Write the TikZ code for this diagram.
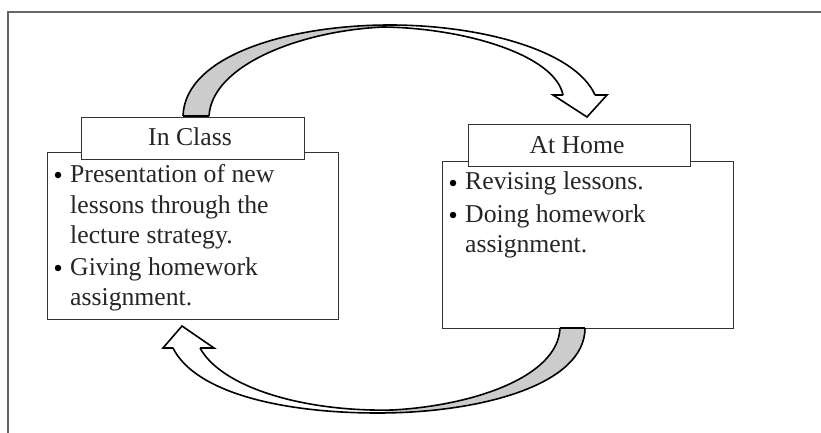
\documentclass[tikz,border=0pt]{standalone}
\usepackage{fontspec}
\setmainfont{Liberation Serif}
\begin{document}
\begin{tikzpicture}[x=1pt,y=-1pt,
  boxline/.style={draw=black!80,line width=1.3pt},
  tabbox/.style={boxline,fill=white,anchor=north west,inner sep=0pt},
  bodybox/.style={boxline,fill=white,anchor=north west,inner sep=0pt},
  txt/.style={anchor=base west,inner sep=0pt,text=black!85,font=\fontsize{25.7}{30}\selectfont},
  lbl/.style={anchor=base,inner sep=0pt,text=black!85,font=\fontsize{25.7}{30}\selectfont},
  dotb/.style={circle,fill=black,inner sep=0pt,minimum size=6.5pt},
  arrowline/.style={draw=black,line width=1.6pt,line join=miter},
  shade/.style={fill=black!20}]
\useasboundingbox (0,0) rectangle (821,433);
% frame
\draw[draw=black!60,line width=1.5pt] (8,440) -- (8,12) -- (830,12);

% boxes
\node[bodybox,minimum width=291pt,minimum height=167pt] (lbody) at (47,152) {};
\node[tabbox,minimum width=223pt,minimum height=42pt] (ltab) at (81,117) {};
\node[bodybox,minimum width=291pt,minimum height=167pt] (rbody) at (442,161) {};
\node[tabbox,minimum width=222pt,minimum height=42pt] (rtab) at (468,124) {};

% labels
\node[lbl] (lt) at (190,146) {In Class};
\node[lbl] (rt) at (577,153) {At Home};

% left text
\node[dotb] (lb1) at (58,175) {};
\node[txt] (l1) at (70,182) {Presentation of new};
\node[txt] (l2) at (70,213) {lessons through the};
\node[txt] (l3) at (70,243) {lecture strategy.};
\node[dotb] (lb2) at (58,268) {};
\node[txt] (l4) at (70,275) {Giving homework};
\node[txt] (l5) at (70,305) {assignment.};

% right text
\node[dotb] (rb1) at (453,183) {};
\node[txt] (r1) at (465,189) {Revising lessons.};
\node[dotb] (rb2) at (453,215) {};
\node[txt] (r2) at (465,222) {Doing homework};
\node[txt] (r3) at (465,252) {assignment.};

% top curved arrow
\coordinate (ta1) at (183,116);
\coordinate (ta2) at (209,116);
\coordinate (tpk) at (390,25);
\coordinate (tpi) at (383,27);
\coordinate (th1) at (595,95);
\coordinate (th2) at (563,95);
\fill[shade] (ta1) .. controls (185,55) and (290,25) .. (tpk) -- (tpi) .. controls (300,31) and (212,65) .. (ta2) -- cycle;
\draw[arrowline] (ta1) .. controls (185,55) and (290,25) .. (tpk) .. controls (480,25) and (575,50) .. (th1);
\draw[arrowline] (ta2) .. controls (212,65) and (300,31) .. (tpi) .. controls (465,28) and (555,55) .. (th2);
\draw[arrowline] (th2) -- (553,95) -- (587,117) -- (607,95) -- (th1);
\draw[arrowline] (ta1) -- (ta2);

% bottom curved arrow
\coordinate (ba1) at (585,328);
\coordinate (ba2) at (560,328);
\coordinate (bpk) at (378,413);
\coordinate (bpi) at (392,410);
\coordinate (bh1) at (173,348);
\coordinate (bh2) at (200,348);
\fill[shade] (ba1) .. controls (585,385) and (480,413) .. (bpk) -- (bpi) .. controls (470,406) and (558,378) .. (ba2) -- cycle;
\draw[arrowline] (ba1) .. controls (585,385) and (480,413) .. (bpk) .. controls (280,413) and (195,392) .. (bh1);
\draw[arrowline] (ba2) .. controls (558,378) and (470,406) .. (bpi) .. controls (305,412) and (222,388) .. (bh2);
\draw[arrowline] (bh1) -- (163,348) -- (182,326) -- (214,348) -- (bh2);
\draw[arrowline] (ba1) -- (ba2);
\end{tikzpicture}
\end{document}
